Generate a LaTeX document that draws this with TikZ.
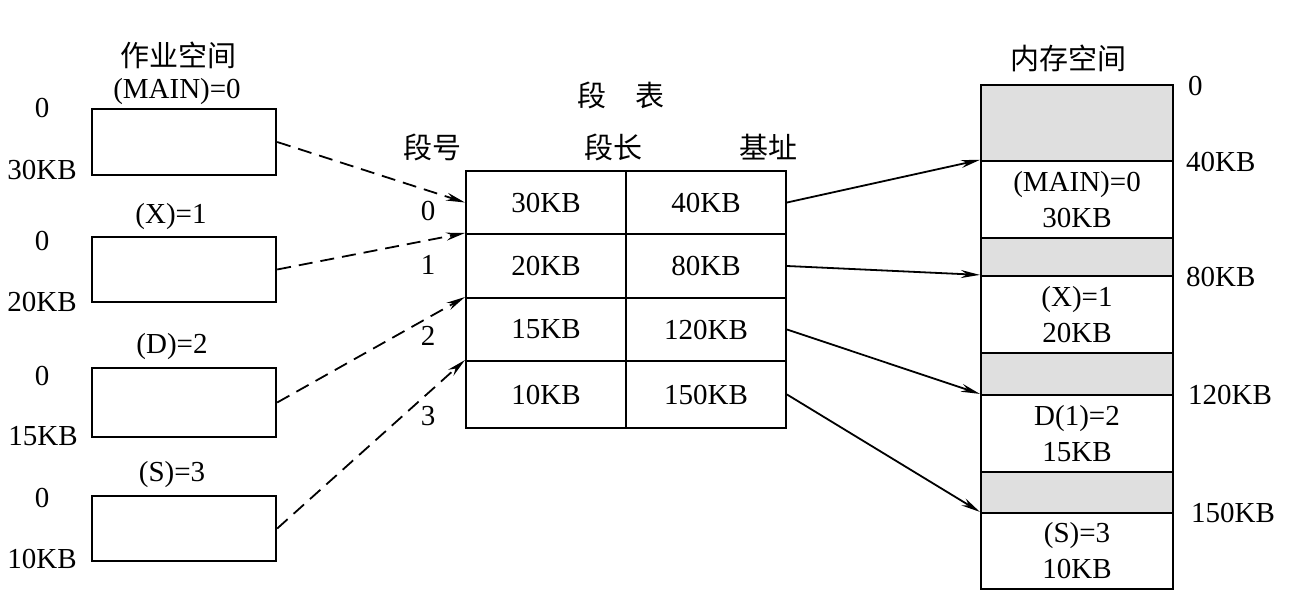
\documentclass[tikz,border=0pt]{standalone}
\usepackage{fontspec}
\setmainfont{Liberation Serif}
\newfontfamily\cjk{Noto Sans CJK SC}
\usetikzlibrary{arrows.meta}
\begin{document}
\begin{tikzpicture}[x=1pt,y=-1pt,
  font=\fontsize{29}{36}\selectfont,
  jobbox/.style={draw,line width=2.4pt,minimum width=184pt,inner sep=0pt},
  cell/.style={draw,line width=2pt,minimum width=160pt,inner sep=0pt},
  memseg/.style={draw,line width=2.2pt,minimum width=192pt,inner sep=0pt,align=center},
  gapseg/.style={memseg,fill=gray!25},
  lbl/.style={inner sep=0pt},
  dasharr/.style={-{Stealth[length=19pt,width=8pt]},dash pattern=on 14pt off 8pt,line width=1.8pt},
  solarr/.style={-{Stealth[length=19pt,width=8pt]},line width=1.8pt}]
\useasboundingbox (0,0) rectangle (1292,599);
\fill[white] (0,0) rectangle (1292,599);

% job space
\node[lbl] (jtitle) at (178,55) {\cjk 作业空间};
\node[lbl] (j0name) at (177,92) {(MAIN)=0};
\node[jobbox,minimum height=66pt] (job0) at (184,142) {};
\node[lbl] (j0s) at (42,108) {0};
\node[lbl] (j0e) at (42,170) {30KB};

\node[lbl] (j1name) at (171,217) {(X)=1};
\node[jobbox,minimum height=65pt] (job1) at (184,269.5) {};
\node[lbl] (j1s) at (42,241) {0};
\node[lbl] (j1e) at (42,302) {20KB};

\node[lbl] (j2name) at (172,347) {(D)=2};
\node[jobbox,minimum height=69pt] (job2) at (184,402.5) {};
\node[lbl] (j2s) at (42,376) {0};
\node[lbl] (j2e) at (43,436) {15KB};

\node[lbl] (j3name) at (172,475) {(S)=3};
\node[jobbox,minimum height=65pt] (job3) at (184,528.5) {};
\node[lbl] (j3s) at (42,498) {0};
\node[lbl] (j3e) at (42,559) {10KB};

% segment table
\node[lbl] (ttitle) at (621,95) {\cjk 段\hspace{1em}表};
\node[lbl] (h0) at (432,147) {\cjk 段号};
\node[lbl] (h1) at (613,147) {\cjk 段长};
\node[lbl] (h2) at (768,147) {\cjk 基址};

\node[cell,minimum height=63pt] (r0a) at (546,202.5) {30KB};
\node[cell,minimum height=63pt] (r0b) at (706,202.5) {40KB};
\node[cell,minimum height=64pt] (r1a) at (546,266) {20KB};
\node[cell,minimum height=64pt] (r1b) at (706,266) {80KB};
\node[cell,minimum height=63pt] (r2a) at (546,329.5) {15KB};
\node[cell,minimum height=63pt] (r2b) at (706,329.5) {120KB};
\node[cell,minimum height=67pt] (r3a) at (546,394.5) {10KB};
\node[cell,minimum height=67pt] (r3b) at (706,394.5) {150KB};

\node[lbl] (n0) at (428,211) {0};
\node[lbl] (n1) at (428,265) {1};
\node[lbl] (n2) at (428,336) {2};
\node[lbl] (n3) at (428,416) {3};

% memory space
\node[lbl] (mtitle) at (1068,58) {\cjk 内存空间};
\node[gapseg,minimum height=76pt] (g0) at (1077,123) {};
\node[memseg,minimum height=77pt] (m0) at (1077,199.5) {(MAIN)=0\\30KB};
\node[gapseg,minimum height=38pt] (g1) at (1077,257) {};
\node[memseg,minimum height=77pt] (m1) at (1077,314.5) {(X)=1\\20KB};
\node[gapseg,minimum height=42pt] (g2) at (1077,374) {};
\node[memseg,minimum height=77pt] (m2) at (1077,433.5) {D(1)=2\\15KB};
\node[gapseg,minimum height=41pt] (g3) at (1077,492.5) {};
\node[memseg,minimum height=76pt] (m3) at (1077,551) {(S)=3\\10KB};

\node[lbl,anchor=west] (a0) at (1188,86) {0};
\node[lbl,anchor=west] (a40) at (1186,162) {40KB};
\node[lbl,anchor=west] (a80) at (1186,277) {80KB};
\node[lbl,anchor=west] (a120) at (1188,395) {120KB};
\node[lbl,anchor=west] (a150) at (1191,513) {150KB};

% connectors
\draw[dasharr] (job0.east) -- (r0a.west);
\draw[dasharr] (job1.east) -- (r1a.north west);
\draw[dasharr] (job2.east) -- (r2a.north west);
\draw[dasharr] (job3.east) -- (r3a.north west);

\draw[solarr] (r0b.east) -- (m0.north west);
\draw[solarr] (r1b.east) -- (m1.north west);
\draw[solarr] (r2b.east) -- (m2.north west);
\draw[solarr] (r3b.east) -- (m3.north west);
\end{tikzpicture}
\end{document}
